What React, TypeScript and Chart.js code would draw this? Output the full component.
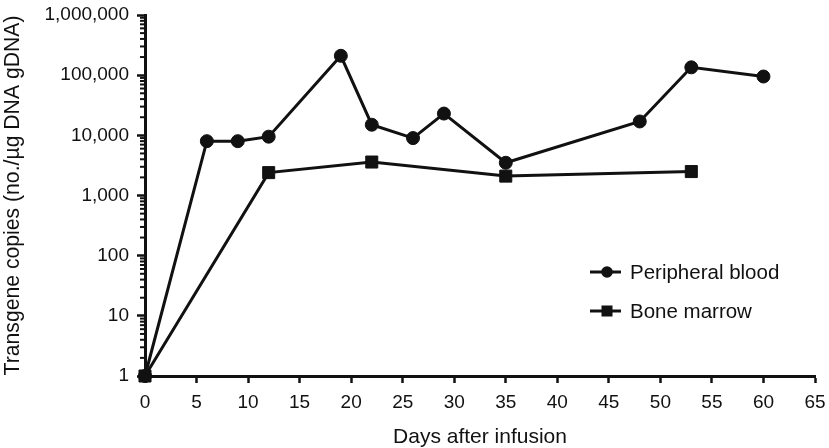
import React, { useEffect, useRef } from "react";
import { Chart, registerables } from "chart.js";

Chart.register(...registerables);

// ---- data ----
const pbDays = [0, 6, 9, 12, 19, 22, 26, 29, 35, 48, 53, 60];
const pbCopies = [1, 8000, 8000, 9500, 210000, 15000, 9000, 23000, 3500, 17000, 135000, 95000];
const bmDays = [0, 12, 22, 35, 53];
const bmCopies = [1, 2400, 3600, 2100, 2500];
const yTickValues = [1, 10, 100, 1000, 10000, 100000, 1000000];
const seriesLabels = ["Peripheral blood", "Bone marrow"];
const xTitle = "Days after infusion";
const yTitle = "Transgene copies (no./\u00b5g DNA gDNA)";

const INK = "#111111";
const FONT = "'Liberation Sans', Arial, Helvetica, sans-serif";

const minorTicksPlugin = {
  id: "minorTicks",
  afterDraw(chart: any) {
    const y = chart.scales.y;
    const ctx = chart.ctx;
    const left = chart.chartArea.left;
    ctx.save();
    ctx.strokeStyle = INK;
    ctx.lineWidth = 2;
    for (let k = 0; k < 6; k++) {
      for (let m = 2; m <= 9; m++) {
        const py = y.getPixelForValue(m * Math.pow(10, k));
        ctx.beginPath();
        ctx.moveTo(left - 5, py);
        ctx.lineTo(left, py);
        ctx.stroke();
      }
    }
    ctx.restore();
  },
};

const legendPlugin = {
  id: "lineLegend",
  afterDraw(chart: any) {
    const ctx = chart.ctx;
    chart.data.datasets.forEach((ds: any, i: number) => {
      const y = 272 + i * 39;
      const x0 = 590;
      ctx.save();
      ctx.strokeStyle = INK;
      ctx.fillStyle = INK;
      ctx.lineWidth = 3;
      ctx.beginPath();
      ctx.moveTo(x0, y);
      ctx.lineTo(x0 + 31, y);
      ctx.stroke();
      if (ds.pointStyle === "rect") {
        ctx.fillRect(x0 + 17 - 5.5, y - 5.5, 11, 11);
      } else {
        ctx.beginPath();
        ctx.arc(x0 + 17, y, 5.8, 0, Math.PI * 2);
        ctx.fill();
      }
      ctx.font = `20.5px ${FONT}`;
      ctx.textBaseline = "middle";
      ctx.textAlign = "left";
      ctx.fillText(ds.label, 630, y + 1);
      ctx.restore();
    });
  },
};

export default function App() {
  const ref = useRef<HTMLCanvasElement | null>(null);

  useEffect(() => {
    if (!ref.current) return;
    const chart = new Chart(ref.current, {
      type: "line",
      data: {
        datasets: [
          {
            label: seriesLabels[0],
            data: pbDays.map((d, i) => ({ x: d, y: pbCopies[i] })),
            borderColor: INK,
            backgroundColor: INK,
            borderWidth: 3,
            pointStyle: "circle",
            pointRadius: 6.5,
            pointBorderWidth: 1,
            pointBackgroundColor: INK,
            pointBorderColor: INK,
            clip: false,
            tension: 0,
          },
          {
            label: seriesLabels[1],
            data: bmDays.map((d, i) => ({ x: d, y: bmCopies[i] })),
            borderColor: INK,
            backgroundColor: INK,
            borderWidth: 3,
            pointStyle: "rect",
            pointRadius: 8.5,
            pointBorderWidth: 1,
            pointBackgroundColor: INK,
            pointBorderColor: INK,
            clip: false,
            tension: 0,
          },
        ],
      } as any,
      options: {
        animation: false,
        responsive: false,
        devicePixelRatio: 1,
        layout: { padding: { top: 15, right: 14, left: 0, bottom: 0 } },
        plugins: {
          legend: { display: false },
          tooltip: { enabled: false },
        },
        font: { family: FONT },
        scales: {
          x: {
            type: "linear",
            min: 0,
            max: 65,
            afterFit: (s: any) => {
              s.height = 72;
              s.paddingLeft = 0;
              s.paddingRight = 0;
            },
            ticks: {
              stepSize: 5,
              color: INK,
              font: { family: FONT, size: 19 },
              padding: 8,
              maxRotation: 0,
            },
            grid: {
              drawOnChartArea: false,
              drawTicks: true,
              tickLength: 7,
              tickWidth: 2.5,
              tickColor: INK,
            },
            border: { color: INK, width: 3 },
            title: {
              display: true,
              text: xTitle,
              color: INK,
              font: { family: FONT, size: 21, lineHeight: 1 },
              padding: { top: 0, bottom: 0 },
            },
          },
          y: {
            type: "logarithmic",
            min: 1,
            max: 1000000,
            afterFit: (s: any) => {
              s.width = 145;
              s.paddingTop = 0;
              s.paddingBottom = 0;
            },
            afterBuildTicks: (s: any) => {
              s.ticks = yTickValues.map((v) => ({ value: v }));
            },
            ticks: {
              color: INK,
              font: { family: FONT, size: 19 },
              padding: 8,
              callback: (v: any) => Number(v).toLocaleString("en-US"),
            },
            grid: {
              drawOnChartArea: false,
              drawTicks: true,
              tickLength: 8,
              tickWidth: 2.5,
              tickColor: INK,
            },
            border: { color: INK, width: 3 },
            title: {
              display: true,
              text: yTitle,
              color: INK,
              font: { family: FONT, size: 21.2, lineHeight: 1.1 },
              padding: { top: 1, bottom: 0 },
            },
          },
        },
      } as any,
      plugins: [minorTicksPlugin, legendPlugin],
    });
    return () => chart.destroy();
  }, []);

  return (
    <div style={{ position: "absolute", left: 0, top: 0, width: 829, height: 448, background: "#fff" }}>
      <canvas ref={ref} width={829} height={448} />
    </div>
  );
}
